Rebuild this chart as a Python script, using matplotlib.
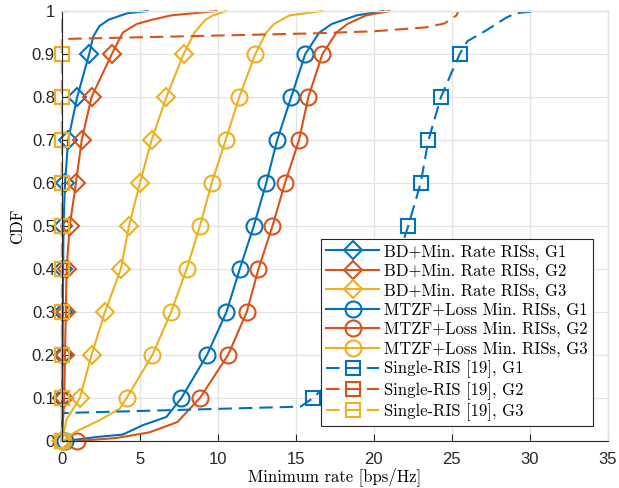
import numpy as np
import matplotlib
matplotlib.use("Agg")
import matplotlib.pyplot as plt

# Empirical CDFs of the minimum user rate [bps/Hz]
bd_g1_rate = [0, 0.02, 0.04, 0.06, 0.08, 0.1, 0.2, 0.4, 0.98, 1.75, 2.0, 2.4, 3.0, 4.2, 5.5]
bd_g1_cdf = [0, 0.1, 0.2, 0.3, 0.4, 0.5, 0.6, 0.7, 0.8, 0.9, 0.94, 0.965, 0.98, 0.995, 1.0]

bd_g2_rate = [0, 0.15, 0.2, 0.25, 0.3, 0.5, 0.9, 1.27, 1.9, 3.2, 3.9, 4.8, 5.8, 7.0, 9.9]
bd_g2_cdf = [0, 0.1, 0.2, 0.3, 0.4, 0.5, 0.6, 0.7, 0.8, 0.9, 0.95, 0.97, 0.98, 0.99, 1.0]

bd_g3_rate = [0, 0.3, 1.15, 1.9, 2.76, 3.78, 4.3, 5.0, 5.75, 6.7, 7.8, 8.5, 9.2, 9.7, 10.5]
bd_g3_cdf = [0, 0.05, 0.1, 0.2, 0.3, 0.4, 0.5, 0.6, 0.7, 0.8, 0.9, 0.95, 0.98, 0.99, 1.0]

mtzf_g1_rate = [0.2, 2.4, 3.9, 5.2, 6.7, 7.66, 9.3, 10.55, 11.4, 12.3, 13.1, 13.8, 14.7,
                15.6, 16.5, 17.3, 18.9, 20.6]
mtzf_g1_cdf = [0, 0.01, 0.015, 0.037, 0.056, 0.1, 0.2, 0.3, 0.4, 0.5, 0.6, 0.7, 0.8,
               0.9, 0.95, 0.97, 0.99, 1.0]

mtzf_g2_rate = [1.0, 3.5, 5.6, 7.4, 8.85, 10.65, 11.85, 12.6, 13.5, 14.3, 15.2, 15.8,
                16.7, 17.6, 18.3, 19.5, 21.0]
mtzf_g2_cdf = [0, 0.007, 0.02, 0.044, 0.1, 0.2, 0.3, 0.4, 0.5, 0.6, 0.7, 0.8,
               0.9, 0.95, 0.97, 0.99, 1.0]

mtzf_g3_rate = [0.1, 0.8, 2.5, 3.7, 4.15, 5.8, 7.0, 8.0, 8.85, 9.6, 10.5, 11.37, 12.4,
                13.1, 13.6, 14.6, 16.7]
mtzf_g3_cdf = [0, 0.02, 0.05, 0.075, 0.1, 0.2, 0.3, 0.4, 0.5, 0.6, 0.7, 0.8, 0.9,
               0.95, 0.97, 0.99, 1.0]

single_g1_rate = [0, 0.05, 15.3, 16.1, 19.0, 20.3, 21.3, 22.2, 23.0, 23.5, 24.3, 25.5,
                  26.0, 27.2, 28.5, 29.1, 30.5]
single_g1_cdf = [0, 0.065, 0.08, 0.1, 0.2, 0.3, 0.4, 0.5, 0.6, 0.7, 0.8, 0.9,
                 0.93, 0.955, 0.985, 0.995, 1.0]

single_g2_rate = [0, 0, 0, 0, 0, 0, 0, 0, 0, 0, 0, 16.0, 20.0, 23.3, 24.5, 25.3, 25.4]
single_g2_cdf = [0, 0.1, 0.2, 0.3, 0.4, 0.5, 0.6, 0.7, 0.8, 0.9, 0.935, 0.948, 0.953,
                 0.962, 0.971, 0.99, 1.0]

single_g3_rate = [0, 0, 0, 0, 0, 0, 0, 0, 0, 0, 0]
single_g3_cdf = [0, 0.1, 0.2, 0.3, 0.4, 0.5, 0.6, 0.7, 0.8, 0.9, 1.0]

labels = [
    "BD+Min. Rate RISs, G1", "BD+Min. Rate RISs, G2", "BD+Min. Rate RISs, G3",
    "MTZF+Loss Min. RISs, G1", "MTZF+Loss Min. RISs, G2", "MTZF+Loss Min. RISs, G3",
    "Single-RIS [19], G1", "Single-RIS [19], G2", "Single-RIS [19], G3",
]

x_ticks = [0, 5, 10, 15, 20, 25, 30, 35]
y_ticks = [0, 0.1, 0.2, 0.3, 0.4, 0.5, 0.6, 0.7, 0.8, 0.9, 1.0]
y_tick_labels = ["0", "0.1", "0.2", "0.3", "0.4", "0.5", "0.6", "0.7", "0.8", "0.9", "1"]

# marker placed every 10% of probability
mark_levels = np.round(np.arange(0, 1.0, 0.1), 3)

BLUE, RED, YELLOW = "#0072BD", "#D95319", "#EDB120"

series = [
    (bd_g1_rate, bd_g1_cdf, BLUE, "D", "-"),
    (bd_g2_rate, bd_g2_cdf, RED, "D", "-"),
    (bd_g3_rate, bd_g3_cdf, YELLOW, "D", "-"),
    (mtzf_g1_rate, mtzf_g1_cdf, BLUE, "o", "-"),
    (mtzf_g2_rate, mtzf_g2_cdf, RED, "o", "-"),
    (mtzf_g3_rate, mtzf_g3_cdf, YELLOW, "o", "-"),
    (single_g1_rate, single_g1_cdf, BLUE, "s", "--"),
    (single_g2_rate, single_g2_cdf, RED, "s", "--"),
    (single_g3_rate, single_g3_cdf, YELLOW, "s", "--"),
]
marker_sizes = {"D": 9.0, "o": 11.5, "s": 9.5}

fig = plt.figure(figsize=(6.19, 4.88), dpi=100)
ax = fig.add_axes([0.100, 0.0963, 0.882, 0.881])

for (xs, ys, color, mk, ls), lab in zip(series, labels):
    ys_arr = np.asarray(ys, dtype=float)
    idx = [i for i, v in enumerate(ys_arr) if np.any(np.isclose(v, mark_levels))]
    line, = ax.plot(xs, ys, color=color, linestyle=ls, linewidth=1.5,
                    marker=mk, markersize=marker_sizes[mk], markevery=idx,
                    markerfacecolor="none", markeredgewidth=1.5,
                    markeredgecolor=color, label=lab, clip_on=False)
    if ls == "--":
        line.set_dashes((6.5, 3.3))

ax.set_xlim(0, 35)
ax.set_ylim(0, 1)
ax.set_xticks(x_ticks)
ax.set_yticks(y_ticks)
ax.set_yticklabels(y_tick_labels)

for t in ax.get_xticklabels() + ax.get_yticklabels():
    t.set_fontfamily("Liberation Sans")
    t.set_fontsize(12)
    t.set_color("#262626")

ax.tick_params(direction="in", length=5, width=0.8, color="#262626",
               top=False, right=False)
ax.tick_params(axis="x", pad=8)
ax.tick_params(axis="y", pad=5)

ax.grid(True, color="#E3E3E3", linewidth=0.9)
ax.set_axisbelow(True)
for side in ("left", "bottom"):
    ax.spines[side].set_color("#262626")
    ax.spines[side].set_linewidth(0.8)
for side in ("top", "right"):
    ax.spines[side].set_color("#E3E3E3")
    ax.spines[side].set_linewidth(1.0)

label_font = {"family": "cmr10", "size": 12}
ax.set_xlabel("Minimum rate [bps/Hz]", fontdict=label_font, labelpad=0)
ax.set_ylabel("CDF", fontdict=label_font, labelpad=5)

leg = ax.legend(loc="lower right", prop={"family": "cmr10", "size": 12},
                handlelength=3.2, fancybox=False, framealpha=1.0,
                edgecolor="#262626", borderaxespad=0.9, labelspacing=0.22,
                borderpad=0.3, handletextpad=0.3)
leg.get_frame().set_linewidth(0.8)

fig.savefig("out.png", dpi=100, facecolor="white")
